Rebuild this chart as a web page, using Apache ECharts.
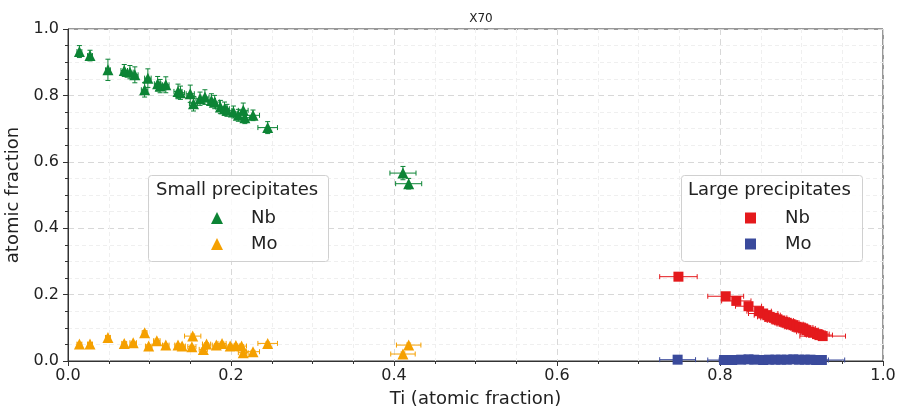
<!DOCTYPE html>
<html>
<head>
<meta charset="utf-8">
<script src="https://cdn.jsdelivr.net/npm/echarts@6/dist/echarts.min.js"></script>
<style>html,body{margin:0;padding:0;background:#fff}#c{width:902px;height:411px}</style>
</head>
<body>
<div id="c"></div>
<script>
// ---- data ----
const titleText = 'X70';
const xTicks = [0.0, 0.2, 0.4, 0.6, 0.8, 1.0];
const yTicks = [0.0, 0.2, 0.4, 0.6, 0.8, 1.0];

const smallNbX    = [0.014,0.027,0.049,0.069,0.076,0.082,0.094,0.098,0.110,0.113,0.120,0.135,0.138,0.150,0.154,0.162,0.168,0.176,0.180,0.187,0.192,0.195,0.203,0.209,0.215,0.217,0.227,0.245,0.411,0.418];
const smallNbY    = [0.932,0.920,0.877,0.875,0.870,0.862,0.817,0.852,0.835,0.828,0.832,0.812,0.808,0.805,0.775,0.790,0.795,0.785,0.780,0.765,0.760,0.755,0.750,0.740,0.755,0.733,0.740,0.703,0.566,0.534];
const smallNbXerr = [0.003,0.003,0.003,0.004,0.004,0.004,0.004,0.004,0.004,0.004,0.004,0.005,0.005,0.005,0.005,0.005,0.005,0.005,0.006,0.006,0.006,0.006,0.006,0.006,0.006,0.006,0.008,0.012,0.016,0.016];
const smallNbYerr = [0.018,0.016,0.032,0.018,0.020,0.024,0.022,0.028,0.022,0.020,0.024,0.022,0.020,0.026,0.022,0.020,0.022,0.020,0.020,0.020,0.020,0.018,0.018,0.018,0.022,0.018,0.016,0.018,0.020,0.016];

const smallMoX    = [0.014,0.027,0.049,0.069,0.080,0.094,0.099,0.109,0.120,0.135,0.140,0.153,0.152,0.166,0.170,0.182,0.189,0.199,0.206,0.213,0.215,0.227,0.245,0.418,0.411];
const smallMoY    = [0.051,0.051,0.071,0.053,0.055,0.085,0.045,0.061,0.048,0.048,0.045,0.075,0.043,0.035,0.051,0.048,0.053,0.045,0.047,0.045,0.025,0.028,0.053,0.048,0.021];
const smallMoXerr = [0.003,0.003,0.003,0.003,0.004,0.003,0.004,0.004,0.004,0.004,0.004,0.010,0.005,0.005,0.005,0.005,0.005,0.005,0.005,0.006,0.006,0.008,0.012,0.015,0.015];
const smallMoYerr = [0.004,0.004,0.005,0.004,0.004,0.006,0.004,0.005,0.004,0.004,0.004,0.006,0.004,0.004,0.004,0.004,0.004,0.004,0.004,0.004,0.004,0.004,0.004,0.006,0.006];

const largeNbX    = [0.749,0.807,0.820,0.835,0.848,0.853,0.858,0.861,0.866,0.870,0.874,0.878,0.882,0.886,0.890,0.894,0.898,0.902,0.906,0.910,0.914,0.919,0.922,0.926];
const largeNbY    = [0.254,0.195,0.181,0.165,0.150,0.143,0.138,0.133,0.130,0.125,0.122,0.118,0.115,0.111,0.108,0.103,0.101,0.098,0.093,0.088,0.085,0.081,0.078,0.075];
const largeNbXerr = [0.023,0.022,0.018,0.016,0.015,0.018,0.016,0.015,0.016,0.015,0.016,0.015,0.015,0.016,0.015,0.015,0.016,0.015,0.015,0.016,0.015,0.015,0.016,0.028];
const largeNbYerr = [0.006,0.006,0.005,0.005,0.005,0.005,0.004,0.004,0.004,0.004,0.004,0.004,0.004,0.004,0.004,0.004,0.004,0.004,0.004,0.004,0.004,0.004,0.004,0.004];

const largeMoX    = [0.748,0.805,0.815,0.826,0.835,0.842,0.853,0.860,0.868,0.875,0.882,0.890,0.897,0.904,0.911,0.918,0.925];
const largeMoY    = [0.004,0.003,0.003,0.004,0.005,0.004,0.003,0.004,0.004,0.004,0.004,0.005,0.004,0.004,0.004,0.003,0.003];
const largeMoXerr = [0.022,0.020,0.016,0.015,0.015,0.015,0.015,0.015,0.015,0.016,0.015,0.015,0.015,0.015,0.016,0.015,0.028];
const largeMoYerr = [0.001,0.001,0.001,0.001,0.001,0.001,0.001,0.001,0.001,0.001,0.001,0.001,0.001,0.001,0.001,0.001,0.001];

const seriesNames = ['Nb small', 'Mo small', 'Nb large', 'Mo large'];
const legendTitles = ['Small precipitates', 'Large precipitates'];

// ---- build ----
const colors = { 'Nb small': '#0c8435', 'Mo small': '#f5a000', 'Nb large': '#e4191c', 'Mo large': '#3a4a9c' };
function pts(xs, ys) { return xs.map((x, i) => [x, ys[i]]); }
function errData(xs, ys, xe, ye) { return xs.map((x, i) => [x, ys[i], xe[i], ye[i]]); }

function errSeries(name, data) {
  const col = colors[name];
  return {
    type: 'custom',
    name: name + ' err',
    data: data,
    z: 2,
    silent: true,
    renderItem: function (params, api) {
      const x = api.value(0), y = api.value(1), ex = api.value(2), ey = api.value(3);
      const top = api.coord([x, y + ey]);
      const bot = api.coord([x, y - ey]);
      const lft = api.coord([x - ex, y]);
      const rgt = api.coord([x + ex, y]);
      const cap = 2.5;
      const st = { stroke: col, lineWidth: 1 };
      return {
        type: 'group',
        children: [
          { type: 'line', shape: { x1: top[0], y1: top[1], x2: bot[0], y2: bot[1] }, style: st },
          { type: 'line', shape: { x1: top[0] - cap, y1: top[1], x2: top[0] + cap, y2: top[1] }, style: st },
          { type: 'line', shape: { x1: bot[0] - cap, y1: bot[1], x2: bot[0] + cap, y2: bot[1] }, style: st },
          { type: 'line', shape: { x1: lft[0], y1: lft[1], x2: rgt[0], y2: rgt[1] }, style: st },
          { type: 'line', shape: { x1: lft[0], y1: lft[1] - cap, x2: lft[0], y2: lft[1] + cap }, style: st },
          { type: 'line', shape: { x1: rgt[0], y1: rgt[1] - cap, x2: rgt[0], y2: rgt[1] + cap }, style: st }
        ]
      };
    }
  };
}
function scatterSeries(name, data, symbol, size) {
  return {
    type: 'scatter',
    name: name,
    data: data,
    symbol: symbol,
    symbolSize: size,
    z: 3,
    itemStyle: { color: colors[name], opacity: 1 }
  };
}

const font = 'DejaVu Sans';
const chart = echarts.init(document.getElementById('c'), null, { renderer: 'canvas' });

const axisCommon = {
  axisLine: { show: true, onZero: false, lineStyle: { color: '#333' } },
  axisTick: { show: true, inside: false, length: 5, lineStyle: { color: '#333' } },
  minorTick: { show: true, splitNumber: 4, length: 3, lineStyle: { color: '#333' } },
  splitLine: { show: true, lineStyle: { color: '#d8d8d8', type: [6, 4], width: 1 } },
  minorSplitLine: { show: true, lineStyle: { color: '#efefef', type: [4, 3], width: 1 } }
};

const option = {
  animation: false,
  backgroundColor: '#fff',
  title: {
    text: titleText, left: 476, top: 8, textAlign: 'center',
    textStyle: { fontFamily: font, fontSize: 12, fontWeight: 'normal', color: '#222' }
  },
  grid: { left: 68, right: 19, top: 29, bottom: 50, containLabel: false, outerBoundsMode: 'none', show: true, borderColor: '#333', borderWidth: 1, backgroundColor: 'transparent' },
  xAxis: Object.assign({
    type: 'value', min: xTicks[0], max: xTicks[xTicks.length - 1], interval: 0.2,
    name: 'Ti (atomic fraction)', nameLocation: 'middle', nameGap: 29,
    nameTextStyle: { fontFamily: font, fontSize: 18, color: '#222' },
    axisLabel: { fontFamily: font, fontSize: 16, color: '#222', margin: 7, formatter: v => v.toFixed(1) }
  }, axisCommon),
  yAxis: Object.assign({
    type: 'value', min: yTicks[0], max: yTicks[yTicks.length - 1], interval: 0.2,
    name: 'atomic fraction', nameLocation: 'middle', nameGap: 37, nameRotate: 90,
    nameTextStyle: { fontFamily: font, fontSize: 18, color: '#222' },
    axisLabel: { fontFamily: font, fontSize: 16, color: '#222', margin: 9, formatter: v => v.toFixed(1) }
  }, axisCommon),
  legend: [
    {
      data: [seriesNames[0], seriesNames[1]], orient: 'vertical', left: 211, top: 209,
      itemWidth: 12, itemHeight: 12, itemGap: 8, padding: 0, z: 100,
      formatter: n => n.split(' ')[0],
      textStyle: { fontFamily: font, fontSize: 18, color: '#222', padding: [0, 0, 0, 23] },
      selectedMode: false
    },
    {
      data: [seriesNames[2], seriesNames[3]], orient: 'vertical', left: 745, top: 209,
      itemWidth: 11, itemHeight: 11, itemGap: 8, padding: 0, z: 100,
      formatter: n => n.split(' ')[0],
      textStyle: { fontFamily: font, fontSize: 18, color: '#222', padding: [0, 0, 0, 24] },
      selectedMode: false
    }
  ],
  graphic: [
    { type: 'rect', left: 148, top: 175, shape: { width: 180, height: 86, r: 3 }, style: { fill: 'rgba(255,255,255,0.85)', stroke: '#d0d0d0', lineWidth: 1 }, z: 50 },
    { type: 'text', left: 156, top: 181, style: { text: legendTitles[0], fontFamily: font, fontSize: 18, fill: '#222' }, z: 51 },
    { type: 'rect', left: 681, top: 175, shape: { width: 181, height: 86, r: 3 }, style: { fill: 'rgba(255,255,255,0.85)', stroke: '#d0d0d0', lineWidth: 1 }, z: 50 },
    { type: 'text', left: 688, top: 181, style: { text: legendTitles[1], fontFamily: font, fontSize: 18, fill: '#222' }, z: 51 }
  ],
  series: [
    errSeries('Nb small', errData(smallNbX, smallNbY, smallNbXerr, smallNbYerr)),
    errSeries('Mo small', errData(smallMoX, smallMoY, smallMoXerr, smallMoYerr)),
    errSeries('Nb large', errData(largeNbX, largeNbY, largeNbXerr, largeNbYerr)),
    errSeries('Mo large', errData(largeMoX, largeMoY, largeMoXerr, largeMoYerr)),
    scatterSeries('Nb small', pts(smallNbX, smallNbY), 'triangle', 11),
    scatterSeries('Mo small', pts(smallMoX, smallMoY), 'triangle', 11),
    scatterSeries('Nb large', pts(largeNbX, largeNbY), 'rect', 10),
    scatterSeries('Mo large', pts(largeMoX, largeMoY), 'rect', 10)
  ]
};
chart.setOption(option);
</script>
</body>
</html>
